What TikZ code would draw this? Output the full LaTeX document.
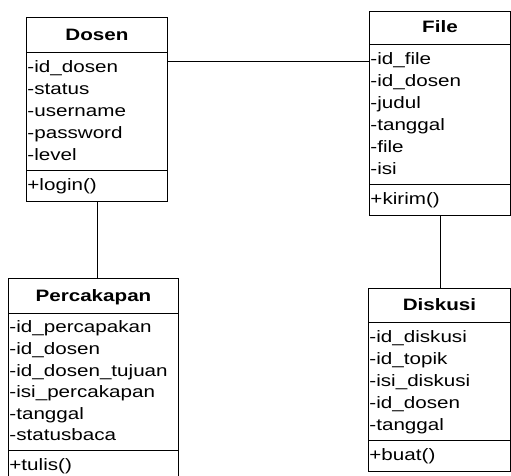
\documentclass[tikz,border=0pt]{standalone}
\usepackage{fontspec}
\setmainfont{Liberation Sans}[FakeStretch=1.25]
\usetikzlibrary{positioning,shapes.multipart}

\tikzset{
    umlclass/.style={draw, line width=0.9pt, rectangle split, rectangle split parts=3,
        text width=#1, inner xsep=1pt, inner ysep=3pt, align=left, anchor=north west,
        font=\fontsize{16.5}{22}\selectfont},
    link/.style={line width=0.8pt},
}
\newcommand{\titlestrut}{\rule[-8pt]{0pt}{28pt}}
\newcommand{\firstrow}{\rule{0pt}{17pt}}
\newcommand{\opstrut}{\rule[-7pt]{0pt}{23.5pt}}

\begin{document}
\begin{tikzpicture}[x=1pt,y=-1pt]
        \useasboundingbox[fill=white] (0,0) rectangle (511,475);
        \coordinate (D) at (26,17);
        \coordinate (F) at (369,11);
        \coordinate (P) at (8,278);
        \coordinate (K) at (368,288);
        \node[umlclass=139pt] (dosen) at (D) {\centering\titlestrut\textbf{Dosen}\par
            \nodepart{two}\firstrow-id\_dosen\\-status\\-username\\-password\\-level\strut
            \nodepart{three}\opstrut+login()};
        \node[umlclass=139pt] (file) at (F) {\centering\rule[-8pt]{0pt}{26pt}\textbf{File}\par
            \nodepart{two}\firstrow-id\_file\\-id\_dosen\\-judul\\-tanggal\\-file\\-isi\strut
            \nodepart{three}\opstrut+kirim()};
        % tighter rows, as in the scan
        \node[umlclass=168pt, font=\fontsize{16.5}{21.6}\selectfont] (percakapan) at (P) {\centering\titlestrut\textbf{Percakapan}\par
            \nodepart{two}\rule{0pt}{16pt}-id\_percapakan\\-id\_dosen\\-id\_dosen\_tujuan\\-isi\_percakapan\\-tanggal\\-statusbaca\strut
            \nodepart{three}\rule[-7pt]{0pt}{23pt}+tulis()};
        \node[umlclass=140pt] (diskusi) at (K) {\centering\rule[-8pt]{0pt}{27pt}\textbf{Diskusi}\par
            \nodepart{two}\firstrow-id\_diskusi\\-id\_topik\\-isi\_diskusi\\-id\_dosen\\-tanggal\strut
            \nodepart{three}\opstrut+buat()};
        \draw[link] ([yshift=-44pt]dosen.north east) -- ([yshift=-44pt]dosen.north east -| file.west);
        \draw[link] (dosen.south) -- (dosen.south |- percakapan.north);
        \draw[link] (file.south) -- (file.south |- diskusi.north);
    \end{tikzpicture}
\end{document}
